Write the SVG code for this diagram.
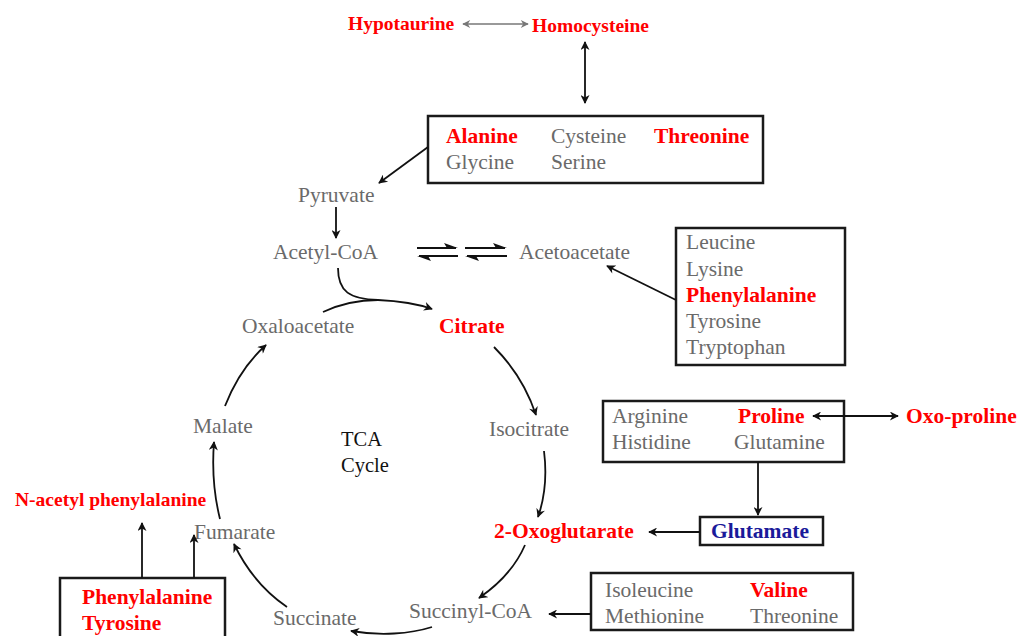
<svg xmlns="http://www.w3.org/2000/svg" width="1019" height="636" viewBox="0 0 1019 636">
<style>
text{font-family:"Liberation Serif","Times New Roman",serif;font-size:21.5px}
.g{fill:#6a6a6a}
.r{fill:#ff0000;font-weight:bold}
.b{fill:#1a1a9a;font-weight:bold}
.k{fill:#111}
.box{fill:none;stroke:#1a1a1a;stroke-width:2.5}
.c{fill:none;stroke:#111;stroke-width:1.8}
</style>
<defs>
<marker id="ah" viewBox="0 0 10 10" refX="9" refY="5" markerWidth="10" markerHeight="9" markerUnits="userSpaceOnUse" orient="auto-start-reverse">
<path d="M0,0 L10,5 L0,10 L3,5 z" fill="#111"/>
</marker>
<marker id="ahg" viewBox="0 0 10 10" refX="9" refY="5" markerWidth="9" markerHeight="8" markerUnits="userSpaceOnUse" orient="auto-start-reverse">
<path d="M0,0 L10,5 L0,10 L3,5 z" fill="#777"/>
</marker>
</defs>
<rect width="1019" height="636" fill="#fff"/>

<g id="n-hypotaurine"><text x="348" y="30" class="r" style="font-size:19.5px">Hypotaurine</text></g>
<g id="n-homocysteine"><text x="532" y="32" class="r" style="font-size:19.5px">Homocysteine</text></g>

<g id="n-box-alanine">
<rect x="428" y="116" width="335" height="67" class="box"/>
<text x="446" y="143" class="r">Alanine</text>
<text x="551" y="143" class="g">Cysteine</text>
<text x="654" y="143" class="r">Threonine</text>
<text x="446" y="169" class="g">Glycine</text>
<text x="551" y="169" class="g">Serine</text>
</g>

<g id="n-pyruvate"><text x="298" y="202" class="g">Pyruvate</text></g>
<g id="n-acetylcoa"><text x="273" y="259" class="g">Acetyl-CoA</text></g>
<g id="n-acetoacetate"><text x="519" y="259" class="g">Acetoacetate</text></g>

<g id="n-box-leucine">
<rect x="676" y="228" width="169" height="137" class="box"/>
<text x="686" y="249" class="g">Leucine</text>
<text x="686" y="276" class="g">Lysine</text>
<text x="686" y="302" class="r">Phenylalanine</text>
<text x="686" y="328" class="g">Tyrosine</text>
<text x="686" y="354" class="g">Tryptophan</text>
</g>

<g id="n-oxaloacetate"><text x="242" y="333" class="g">Oxaloacetate</text></g>
<g id="n-citrate"><text x="439" y="333" class="r">Citrate</text></g>
<g id="n-isocitrate"><text x="489" y="436" class="g">Isocitrate</text></g>
<g id="n-malate"><text x="193" y="433" class="g">Malate</text></g>
<g id="n-tca"><text x="341" y="446" class="k" style="font-size:20.5px">TCA</text><text x="341" y="472" class="k" style="font-size:20.5px">Cycle</text></g>

<g id="n-box-arginine">
<rect x="603" y="401" width="241" height="61" class="box"/>
<text x="612" y="423" class="g">Arginine</text>
<text x="738" y="423" class="r">Proline</text>
<text x="612" y="449" class="g">Histidine</text>
<text x="734" y="449" class="g">Glutamine</text>
</g>
<g id="n-oxoproline"><text x="906" y="423" class="r">Oxo-proline</text></g>

<g id="n-nacetyl"><text x="15" y="506" class="r" style="font-size:19.5px">N-acetyl phenylalanine</text></g>
<g id="n-fumarate"><text x="194" y="539" class="g">Fumarate</text></g>
<g id="n-oxoglutarate"><text x="494" y="538" class="r">2-Oxoglutarate</text></g>

<g id="n-glutamate">
<rect x="700" y="517" width="123" height="28" class="box"/>
<text x="711" y="538" class="b">Glutamate</text>
</g>

<g id="n-box-phe">
<rect x="60" y="578" width="165" height="70" class="box"/>
<text x="82" y="604" class="r">Phenylalanine</text>
<text x="82" y="630" class="r">Tyrosine</text>
</g>

<g id="n-succinate"><text x="273" y="625" class="g">Succinate</text></g>
<g id="n-succinylcoa"><text x="409" y="618" class="g">Succinyl-CoA</text></g>

<g id="n-box-isoleucine">
<rect x="591" y="573" width="262" height="57" class="box"/>
<text x="605" y="597" class="g">Isoleucine</text>
<text x="750" y="597" class="r">Valine</text>
<text x="605" y="623" class="g">Methionine</text>
<text x="750" y="623" class="g">Threonine</text>
</g>

<g id="connectors">
<line x1="463" y1="24" x2="528" y2="24" stroke="#777" stroke-width="1.3" marker-start="url(#ahg)" marker-end="url(#ahg)"/>
<line x1="585" y1="42" x2="585" y2="103" class="c" marker-start="url(#ah)" marker-end="url(#ah)"/>
<line x1="428" y1="147" x2="379" y2="183" class="c" marker-end="url(#ah)"/>
<line x1="336" y1="207" x2="336" y2="238" class="c" marker-end="url(#ah)"/>
<g fill="#111" stroke="#111">
<line x1="417" y1="248" x2="456" y2="248" stroke-width="1.8"/>
<path d="M458,248 L444,243 L447,248 z" stroke="none"/>
<line x1="419" y1="256" x2="458" y2="256" stroke-width="1.8"/>
<path d="M417,256 L431,261 L428,256 z" stroke="none"/>
<line x1="465" y1="248" x2="505" y2="248" stroke-width="1.8"/>
<path d="M507,248 L493,243 L496,248 z" stroke="none"/>
<line x1="467" y1="256" x2="507" y2="256" stroke-width="1.8"/>
<path d="M465,256 L479,261 L476,256 z" stroke="none"/>
</g>
<line x1="676" y1="300" x2="607" y2="266" class="c" marker-end="url(#ah)"/>
<path d="M338,268 C338,292 350,299 378,300 C400,301 418,304 432,309" class="c" marker-end="url(#ah)"/>
<path d="M323,312 C340,304 358,300 378,300" class="c"/>
<path d="M494,347 C512,365 527,388 536,415" class="c" marker-end="url(#ah)"/>
<path d="M544,451 C547,475 545,497 538,517" class="c" marker-end="url(#ah)"/>
<path d="M525,545 C515,568 498,585 479,598" class="c" marker-end="url(#ah)"/>
<path d="M432,627 C410,634 380,636 351,631" class="c" marker-end="url(#ah)"/>
<path d="M287,607 C265,592 247,571 234,544" class="c" marker-end="url(#ah)"/>
<path d="M220,519 C214,495 212,468 214,442" class="c" marker-end="url(#ah)"/>
<path d="M225,406 C234,383 248,361 266,345" class="c" marker-end="url(#ah)"/>
<line x1="813" y1="416" x2="898" y2="416" class="c" marker-start="url(#ah)" marker-end="url(#ah)"/>
<line x1="758" y1="462" x2="758" y2="515" class="c" marker-end="url(#ah)"/>
<line x1="700" y1="532" x2="649" y2="532" class="c" marker-end="url(#ah)"/>
<line x1="591" y1="614" x2="549" y2="614" class="c" marker-end="url(#ah)"/>
<line x1="142" y1="578" x2="142" y2="523" class="c" marker-end="url(#ah)"/>
<line x1="194" y1="578" x2="194" y2="535" class="c" marker-end="url(#ah)"/>
</g>
</svg>
